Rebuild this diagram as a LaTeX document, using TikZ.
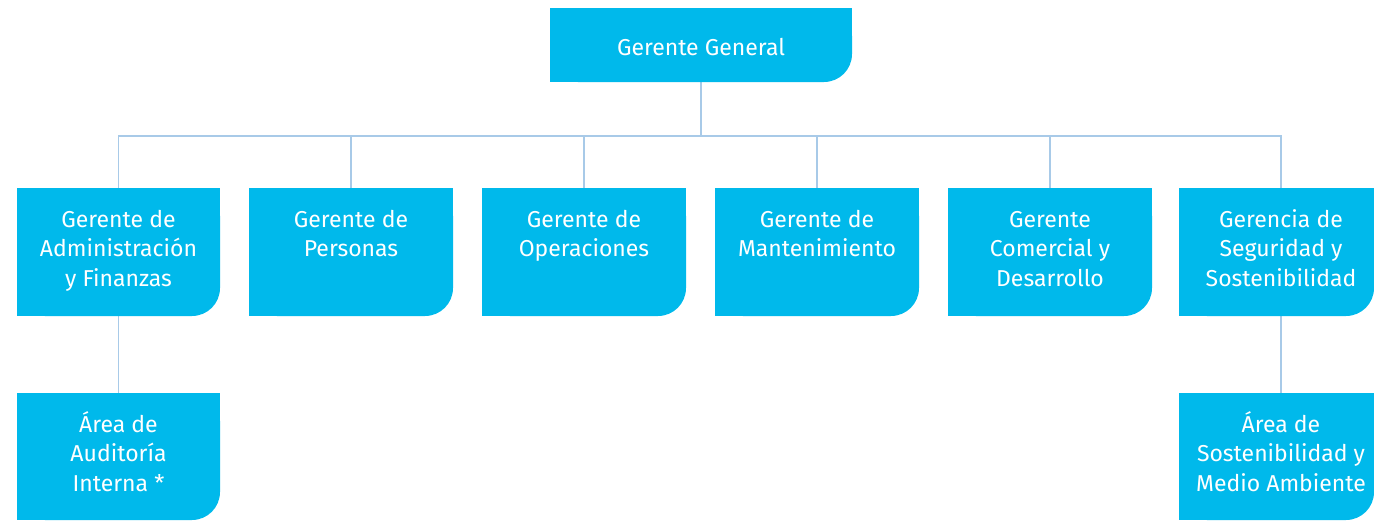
\documentclass[tikz,border=0pt]{standalone}
\usepackage{fontspec}
\setmainfont{Fira Sans}
\definecolor{boxcyan}{RGB}{0,185,235}
\definecolor{linkblue}{RGB}{168,202,232}
\newcommand\tstrut{\rule{0pt}{24pt}}
\tikzset{
  orgbox/.style={rectangle, inner sep=0pt, outer sep=0pt, anchor=north west},
  lbl/.style={anchor=north, inner sep=0pt, outer sep=0pt, align=center, text=white,
    font=\fontsize{23}{29.5}\selectfont},
  conn/.style={draw=linkblue, line width=1.6pt},
}
\newcommand\fillbox[1]{%
  \fill[boxcyan] (#1.north west) rectangle ([yshift=30pt]#1.south east);
  \fill[boxcyan] (#1.north west) rectangle ([xshift=-30pt]#1.south east);
  \fill[boxcyan, rounded corners=28pt] (#1.north west) rectangle (#1.south east);
}
\begin{document}
\begin{tikzpicture}[x=1pt,y=-1pt]
\useasboundingbox (0,0) rectangle (1374,520);
% boxes
\node[orgbox, minimum width=302pt, minimum height=74pt] (gg) at (550,8) {};
\node[orgbox, minimum width=203pt, minimum height=128pt] (b1) at (17,188) {};
\node[orgbox, minimum width=204pt, minimum height=128pt] (b2) at (249,188) {};
\node[orgbox, minimum width=204pt, minimum height=128pt] (b3) at (482,188) {};
\node[orgbox, minimum width=204pt, minimum height=128pt] (b4) at (715,188) {};
\node[orgbox, minimum width=204pt, minimum height=128pt] (b5) at (948,188) {};
\node[orgbox, minimum width=195pt, minimum height=128pt] (b6) at (1179,188) {};
\node[orgbox, minimum width=203pt, minimum height=127pt] (a1) at (17,393) {};
\node[orgbox, minimum width=195pt, minimum height=127pt] (a6) at (1179,393) {};
% connectors
\draw[conn] (gg.south) -- ++(0,54) coordinate (hub);
\draw[conn] (b1.north) |- (hub);
\draw[conn] ([xshift=4.5pt]b6.north) |- (hub);
\draw[conn] (b2.north) -- (b2.north |- hub);
\draw[conn] (b3.north) -- (b3.north |- hub);
\draw[conn] (b4.north) -- (b4.north |- hub);
\draw[conn] (b5.north) -- (b5.north |- hub);
\draw[conn] (b1.south) -- (a1.north);
\draw[conn] ([xshift=4.5pt]b6.south) -- ([xshift=4.5pt]a6.north);
% fills
\fillbox{gg}\fillbox{b1}\fillbox{b2}\fillbox{b3}\fillbox{b4}\fillbox{b5}\fillbox{b6}\fillbox{a1}\fillbox{a6}
% labels
\node[lbl] (tgg) at ([yshift=-23pt]gg.north) {\tstrut Gerente General};
\node[lbl] (t1) at ([yshift=-15pt]b1.north) {\tstrut Gerente de\\Administración\\y Finanzas};
\node[lbl] (t2) at ([yshift=-15pt]b2.north) {\tstrut Gerente de\\Personas};
\node[lbl] (t3) at ([yshift=-15pt]b3.north) {\tstrut Gerente de\\Operaciones};
\node[lbl] (t4) at ([yshift=-15pt]b4.north) {\tstrut Gerente de\\Mantenimiento};
\node[lbl] (t5) at ([yshift=-15pt]b5.north) {\tstrut Gerente\\Comercial y\\Desarrollo};
\node[lbl] (t6) at ([xshift=4.5pt,yshift=-15pt]b6.north) {\tstrut Gerencia de\\Seguridad y\\Sostenibilidad};
\node[lbl] (ta1) at ([yshift=-15pt]a1.north) {\tstrut Área de\\Auditoría\\Interna *};
\node[lbl] (ta6) at ([xshift=4.5pt,yshift=-15pt]a6.north) {\tstrut Área de\\Sostenibilidad y\\Medio Ambiente};
\end{tikzpicture}
\end{document}
